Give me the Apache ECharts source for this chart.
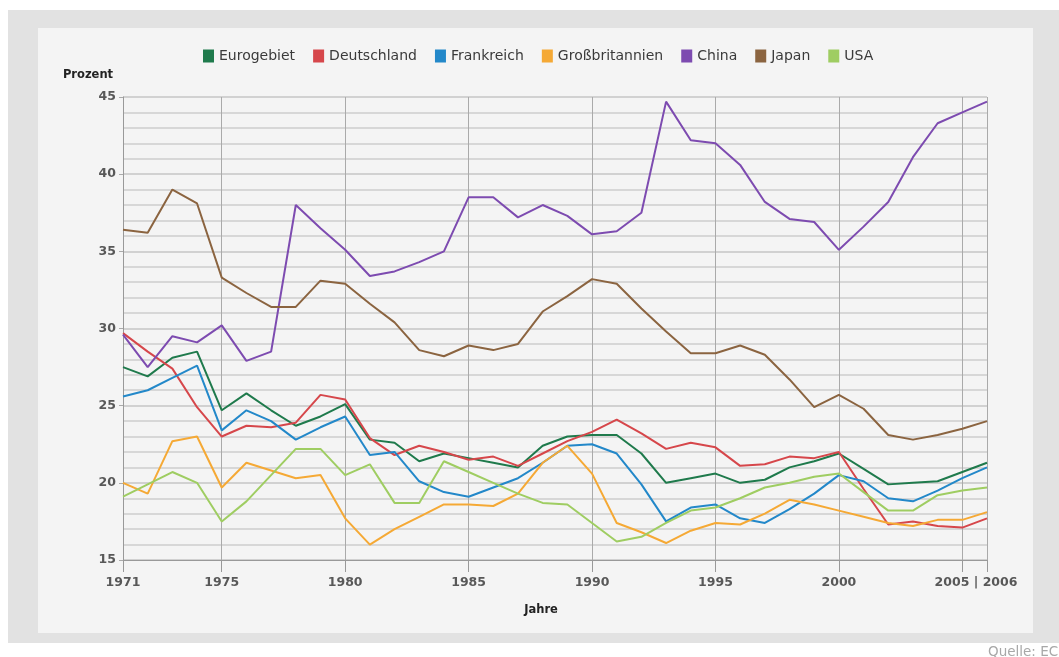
<!DOCTYPE html>
<html>
<head>
<meta charset="utf-8">
<script src="https://cdn.jsdelivr.net/npm/echarts@6/dist/echarts.min.js"></script>
<style>
  html, body { margin: 0; padding: 0; background: #fff; }
  #band { position: absolute; left: 8px; top: 10px; width: 1051px; height: 633px; background: #e2e2e2; }
  #panel { position: absolute; left: 38px; top: 28px; width: 995px; height: 605px; background: #f4f4f4; }
  #chart { position: absolute; left: 0; top: 0; width: 1059px; height: 657px; }
</style>
</head>
<body>
<div id="band"></div>
<div id="panel"></div>
<div id="chart"></div>
<script>
// Jahre 1971 .. 2006
const years = [
  '1971', '1972', '1973', '1974', '1975', '1976', '1977', '1978', '1979', '1980',
  '1981', '1982', '1983', '1984', '1985', '1986', '1987', '1988', '1989', '1990',
  '1991', '1992', '1993', '1994', '1995', '1996', '1997', '1998', '1999', '2000',
  '2001', '2002', '2003', '2004', '2005', '2006',
];

const eurogebiet = [
  27.5, 26.9, 28.1, 28.5, 24.7, 25.8, 24.7, 23.7, 24.3, 25.1,
  22.8, 22.6, 21.4, 21.9, 21.6, 21.3, 21.0, 22.4, 23.0, 23.1,
  23.1, 21.9, 20.0, 20.3, 20.6, 20.0, 20.2, 21.0, 21.4, 21.9,
  20.9, 19.9, 20.0, 20.1, 20.7, 21.3,
];
const deutschland = [
  29.7, 28.5, 27.4, 24.9, 23.0, 23.7, 23.6, 23.9, 25.7, 25.4,
  22.9, 21.8, 22.4, 22.0, 21.5, 21.7, 21.1, 21.9, 22.7, 23.3,
  24.1, 23.2, 22.2, 22.6, 22.3, 21.1, 21.2, 21.7, 21.6, 22.0,
  19.6, 17.3, 17.5, 17.2, 17.1, 17.7,
];
const frankreich = [
  25.6, 26.0, 26.8, 27.6, 23.4, 24.7, 24.0, 22.8, 23.6, 24.3,
  21.8, 22.0, 20.1, 19.4, 19.1, 19.7, 20.3, 21.3, 22.4, 22.5,
  21.9, 19.9, 17.5, 18.4, 18.6, 17.7, 17.4, 18.3, 19.3, 20.5,
  20.1, 19.0, 18.8, 19.5, 20.3, 21.0,
];
const grossbritannien = [
  20.0, 19.3, 22.7, 23.0, 19.7, 21.3, 20.8, 20.3, 20.5, 17.7,
  16.0, 17.0, 17.8, 18.6, 18.6, 18.5, 19.3, 21.3, 22.4, 20.6,
  17.4, 16.8, 16.1, 16.9, 17.4, 17.3, 18.0, 18.9, 18.6, 18.2,
  17.8, 17.4, 17.2, 17.6, 17.6, 18.1,
];
const china = [
  29.6, 27.5, 29.5, 29.1, 30.2, 27.9, 28.5, 38.0, 36.5, 35.1,
  33.4, 33.7, 34.3, 35.0, 38.5, 38.5, 37.2, 38.0, 37.3, 36.1,
  36.3, 37.5, 44.7, 42.2, 42.0, 40.6, 38.2, 37.1, 36.9, 35.1,
  36.6, 38.2, 41.1, 43.3, 44.0, 44.7,
];
const japan = [
  36.4, 36.2, 39.0, 38.1, 33.3, 32.3, 31.4, 31.4, 33.1, 32.9,
  31.6, 30.4, 28.6, 28.2, 28.9, 28.6, 29.0, 31.1, 32.1, 33.2,
  32.9, 31.3, 29.8, 28.4, 28.4, 28.9, 28.3, 26.7, 24.9, 25.7,
  24.8, 23.1, 22.8, 23.1, 23.5, 24.0,
];
const usa = [
  19.1, 19.9, 20.7, 20.0, 17.5, 18.8, 20.5, 22.2, 22.2, 20.5,
  21.2, 18.7, 18.7, 21.4, 20.7, 20.0, 19.3, 18.7, 18.6, 17.4,
  16.2, 16.5, 17.4, 18.2, 18.4, 19.0, 19.7, 20.0, 20.4, 20.6,
  19.4, 18.2, 18.2, 19.2, 19.5, 19.7,
];

const seriesList = [
  { name: 'Eurogebiet', data: eurogebiet, color: '#1f7a4c' },
  { name: 'Deutschland', data: deutschland, color: '#d6474b' },
  { name: 'Frankreich', data: frankreich, color: '#2388c9' },
  { name: 'Großbritannien', data: grossbritannien, color: '#f5a935' },
  { name: 'China', data: china, color: '#7d4bb0' },
  { name: 'Japan', data: japan, color: '#8b6440' },
  { name: 'USA', data: usa, color: '#9fcd62' },
];

const labelFont = { fontFamily: 'DejaVu Sans', fontSize: 12.5, fontWeight: 'bold', color: '#585858' };

// label / tick / vertical line only at 1971, every 5 years, and 2006
const isMarked = (i) => {
  const y = Number(years[i]);
  return y === 1971 || y % 5 === 0 || y === 2006;
};

const myChart = echarts.init(document.getElementById('chart'));

const option = {
  animation: false,
  backgroundColor: 'transparent',
  title: [
    {
      text: 'Quelle: ECB',
      left: 988,
      top: 645,
      padding: 0,
      textStyle: { fontFamily: 'DejaVu Sans', fontSize: 13.5, fontWeight: 'normal', color: '#a8a8a8' },
    },
  ],
  legend: {
    top: 44,
    left: 198,
    icon: 'rect',
    itemWidth: 11,
    itemHeight: 13,
    itemGap: 18,
    textStyle: { fontFamily: 'DejaVu Sans', fontSize: 14, color: '#3a3a3a' },
    data: seriesList.map((s) => s.name),
  },
  grid: { left: 123, right: 72, top: 97, bottom: 97, containLabel: false },
  xAxis: {
    type: 'category',
    data: years,
    boundaryGap: false,
    name: 'Jahre',
    nameLocation: 'middle',
    nameGap: 44,
    nameTextStyle: { fontFamily: 'DejaVu Sans', fontSize: 11.5, fontWeight: 'bold', color: '#222', padding: [0, 28, 0, 0] },
    axisLine: { lineStyle: { color: '#999', width: 1 } },
    axisTick: { interval: (i) => isMarked(i), length: 12, lineStyle: { color: '#999' } },
    axisLabel: {
      interval: (i) => Number(years[i]) !== 2005 && isMarked(i),
      margin: 16,
      ...labelFont,
      formatter(v) {
        return v === '2006' ? '{b|2005 | 2006}' : v;
      },
      rich: { b: { ...labelFont, padding: [0, 22, 0, 0] } },
    },
    splitLine: { show: true, interval: (i) => isMarked(i) && i !== 0, lineStyle: { color: '#aaa', width: 1 } },
  },
  yAxis: {
    type: 'value',
    min: 15,
    max: 45,
    interval: 5,
    name: 'Prozent',
    nameLocation: 'end',
    nameGap: 16,
    nameTextStyle: { fontFamily: 'DejaVu Sans', fontSize: 11.5, fontWeight: 'bold', color: '#222', padding: [0, 70, 0, 0] },
    axisLine: { show: true, lineStyle: { color: '#999' } },
    axisTick: { show: true, length: 4, lineStyle: { color: '#aaa' } },
    axisLabel: { margin: 7, ...labelFont },
    splitLine: { lineStyle: { color: '#c6c6c6', width: 1.5 } },
    minorTick: { show: false, splitNumber: 5 },
    minorSplitLine: { show: true, lineStyle: { color: '#cdcdcd', width: 1.5 } },
  },
  series: seriesList.map((s) => ({
    name: s.name,
    type: 'line',
    data: s.data,
    symbol: 'none',
    smooth: false,
    color: s.color,
    lineStyle: { width: 2, color: s.color },
  })),
};

myChart.setOption(option);
</script>
</body>
</html>
